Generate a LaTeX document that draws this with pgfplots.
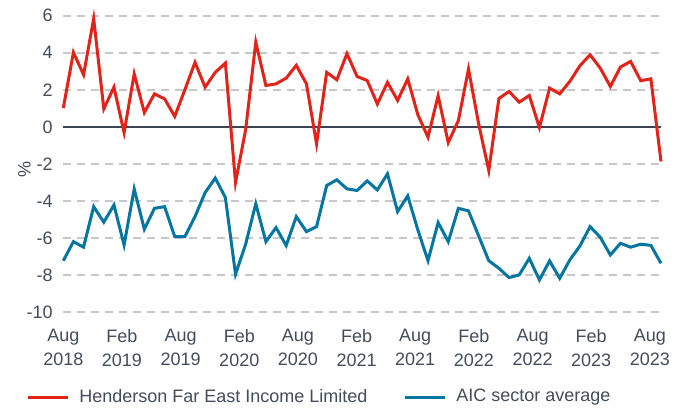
\documentclass[border=0pt]{standalone}
\usepackage{pgfplots}
\pgfplotsset{compat=1.18}
\usepackage{pgfplotstable}
\usepackage{fontspec}
\setmainfont{Liberation Sans}
\definecolor{hred}{RGB}{226,35,26}
\definecolor{aicteal}{RGB}{4,118,160}
\definecolor{txtgray}{RGB}{67,76,89}
\definecolor{zeroline}{RGB}{59,68,82}
\definecolor{gridgray}{RGB}{200,200,204}

\pgfplotstableread{
i hfe aic
0 1.01 -7.23
1 4.02 -6.20
2 2.81 -6.50
3 5.84 -4.31
4 0.97 -5.15
5 2.14 -4.22
6 -0.31 -6.38
7 2.86 -3.35
8 0.77 -5.53
9 1.78 -4.40
10 1.51 -4.31
11 0.56 -5.93
12 2.00 -5.93
13 3.48 -4.85
14 2.14 -3.55
15 2.94 -2.77
16 3.44 -3.82
17 -3.01 -7.96
18 -0.16 -6.34
19 4.57 -4.15
20 2.23 -6.20
21 2.32 -5.44
22 2.63 -6.41
23 3.32 -4.85
24 2.32 -5.66
25 -0.92 -5.39
26 2.94 -3.17
27 2.54 -2.86
28 3.95 -3.35
29 2.72 -3.44
30 2.50 -2.92
31 1.23 -3.41
32 2.40 -2.54
33 1.42 -4.58
34 2.59 -3.73
35 0.65 -5.57
36 -0.56 -7.23
37 1.68 -5.17
38 -0.85 -6.20
39 0.34 -4.40
40 3.12 -4.54
41 0.16 -5.89
42 -2.36 -7.23
43 1.53 -7.64
44 1.91 -8.14
45 1.33 -8.00
46 1.69 -7.10
47 -0.04 -8.27
48 2.09 -7.24
49 1.78 -8.18
50 2.45 -7.19
51 3.30 -6.43
52 3.89 -5.39
53 3.17 -5.96
54 2.18 -6.92
55 3.23 -6.29
56 3.53 -6.50
57 2.49 -6.34
58 2.59 -6.40
59 -1.87 -7.37
}\datatable

\begin{document}
\begin{tikzpicture}
\begin{axis}[
  at={(0,0)}, anchor=south west,
  scale only axis,
  width=298.85pt, height=148.15pt,
  xmin=0, xmax=59, ymin=-10, ymax=6,
  axis line style={draw=none},
  clip=false,
  major tick length=0pt,
  font=\fontsize{9}{12}\selectfont,
  xtick={0,5.79,11.58,17.37,23.16,28.95,34.74,40.53,46.32,52.11,57.9},
  xticklabels={Aug\\2018,Feb\\2019,Aug\\2019,Feb\\2020,Aug\\2020,Feb\\2021,Aug\\2021,Feb\\2022,Aug\\2022,Feb\\2023,Aug\\2023},
  xticklabel style={align=center, text=txtgray, font=\fontsize{9}{12}\selectfont, yshift=-5pt},
  ytick={-10,-8,-6,-4,-2,0,2,4,6},
  yticklabel style={text=txtgray, xshift=-1.75pt},
  /pgf/number format/assume math mode=true,
  ymajorgrids,
  grid style={gridgray, line width=1pt, dash pattern=on 4pt off 3pt},
  extra y ticks={0},
  extra y tick labels={},
  extra y tick style={grid style={zeroline, solid, line width=1.2pt}},
  ylabel={\%},
  every axis y label/.append style={at={(axis description cs:-0.065,0.48)}, anchor=center, text=txtgray, font=\fontsize{9}{12}\selectfont},
  legend columns=2,
  legend style={draw=none, fill=none, inner sep=0pt, outer sep=0pt,
    at={(axis description cs:-0.0619,-0.2872)}, anchor=west,
    font=\fontsize{9}{12}\selectfont, text=txtgray,
    /tikz/every odd column/.append style={column sep=3pt},
    /tikz/every even column/.append style={column sep=16pt}},
  legend image code/.code={\draw[#1] (0pt,0pt) -- (20pt,0pt);},
]
\addplot[hred, line width=1.5pt] table[x=i, y=hfe] {\datatable};
\addlegendentry{Henderson Far East Income Limited}
\addplot[aicteal, line width=1.5pt] table[x=i, y=aic] {\datatable};
\addlegendentry{AIC sector average}
\end{axis}
\pgfresetboundingbox
\path (-31.65pt,-48pt) rectangle (312.85pt,156pt);
\end{tikzpicture}
\end{document}
